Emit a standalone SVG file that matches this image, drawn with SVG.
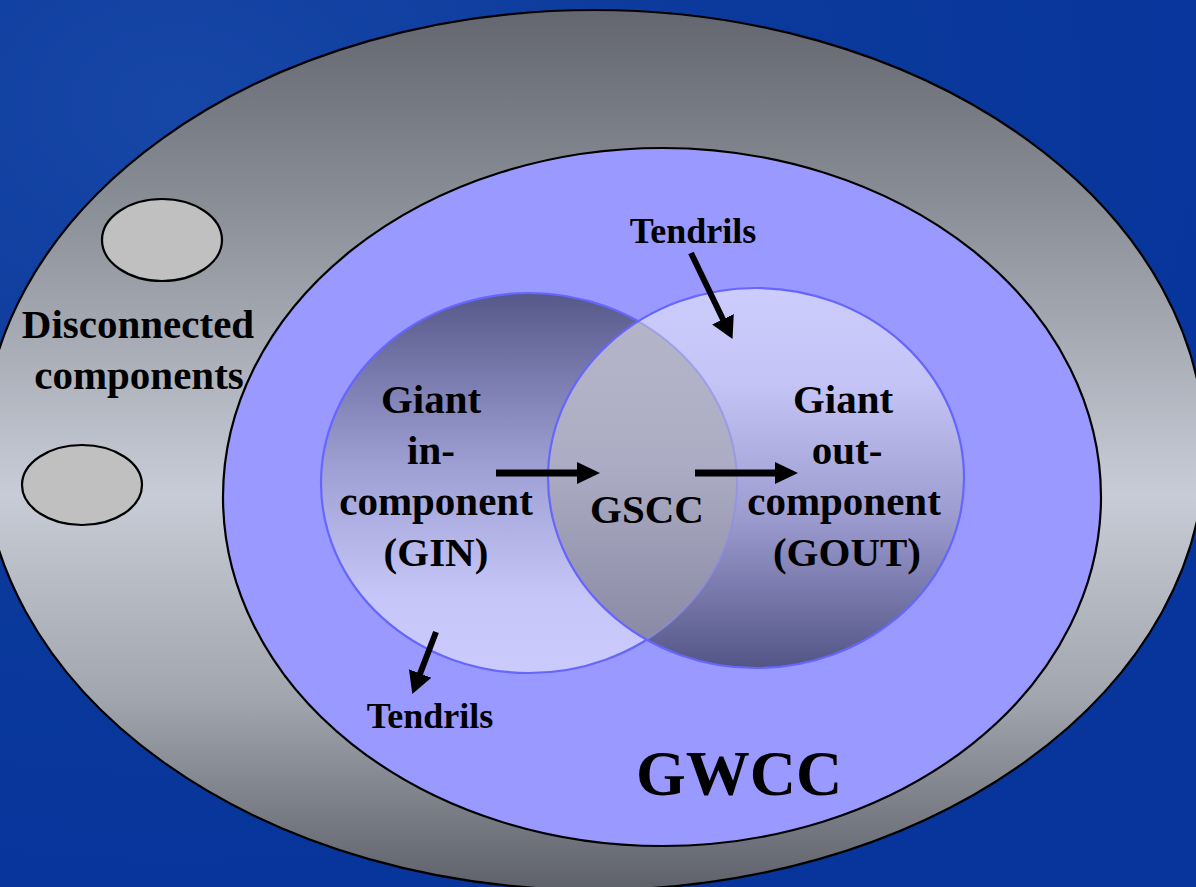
<svg xmlns="http://www.w3.org/2000/svg" width="1196" height="887" viewBox="0 0 1196 887">
  <defs>
    <style>
      .lbl { font-family: "Liberation Serif", "Times New Roman", serif; font-weight: bold; fill: #000; text-anchor: middle; }
      .main { font-size: 41px; }
      .tend { font-size: 36px; }
      .big { font-size: 64px; }
      .ring { stroke: #000; stroke-width: 2.2; }
      .venn { stroke: #6666ff; stroke-width: 2.2; }
      .shaft { stroke: #000; stroke-width: 7; fill: none; }
      .shaft-thin { stroke: #000; stroke-width: 6; fill: none; }
    </style>
    <radialGradient id="bgGrad" cx="0.15" cy="0.12" r="0.9">
      <stop offset="0" stop-color="#1646a6"/>
      <stop offset="0.5" stop-color="#0b3a9c"/>
      <stop offset="1" stop-color="#07359b"/>
    </radialGradient>
    <linearGradient id="outerGrad" gradientUnits="userSpaceOnUse" x1="0" y1="10" x2="0" y2="890">
      <stop offset="0" stop-color="#63666e"/>
      <stop offset="0.22" stop-color="#8a8e97"/>
      <stop offset="0.55" stop-color="#c8ccd6"/>
      <stop offset="0.78" stop-color="#a2a6ae"/>
      <stop offset="1" stop-color="#5e6169"/>
    </linearGradient>
    <linearGradient id="ginGrad" gradientUnits="userSpaceOnUse" x1="0" y1="293" x2="0" y2="673">
      <stop offset="0" stop-color="#57588a"/>
      <stop offset="0.45" stop-color="#9d9ed2"/>
      <stop offset="0.8" stop-color="#c6c6f8"/>
      <stop offset="1" stop-color="#cacafc"/>
    </linearGradient>
    <linearGradient id="goutGrad" gradientUnits="userSpaceOnUse" x1="0" y1="287" x2="0" y2="668">
      <stop offset="0" stop-color="#cccdfc"/>
      <stop offset="0.25" stop-color="#c4c4f6"/>
      <stop offset="0.6" stop-color="#9c9cd0"/>
      <stop offset="1" stop-color="#545587"/>
    </linearGradient>
    <linearGradient id="gsccGrad" gradientUnits="userSpaceOnUse" x1="0" y1="300" x2="0" y2="660">
      <stop offset="0" stop-color="#b6b6ca"/>
      <stop offset="0.45" stop-color="#acacc4"/>
      <stop offset="1" stop-color="#8686a2"/>
    </linearGradient>
    <clipPath id="ginClip">
      <ellipse cx="529" cy="483" rx="208" ry="190"/>
    </clipPath>
    <clipPath id="goutClip">
      <ellipse cx="756" cy="478" rx="208" ry="190"/>
    </clipPath>
    <marker id="head" viewBox="0 0 23 22" refX="1" refY="11" markerWidth="23" markerHeight="22" markerUnits="userSpaceOnUse" orient="auto">
      <path d="M0,0 L23,11 L0,22 z" fill="#000"/>
    </marker>
    <marker id="headT" viewBox="0 0 22 24" refX="1" refY="12" markerWidth="22" markerHeight="24" markerUnits="userSpaceOnUse" orient="auto">
      <path d="M0,0 L22,12 L0,24 z" fill="#000"/>
    </marker>
  </defs>

  <rect id="background" x="0" y="0" width="1196" height="887" fill="url(#bgGrad)"/>

  <g id="outer-region">
    <ellipse cx="594" cy="450" rx="611" ry="440" fill="url(#outerGrad)" class="ring"/>
  </g>

  <g id="disconnected-components">
    <ellipse cx="162" cy="240" rx="60" ry="41" fill="#c0c0c0" class="ring"/>
    <ellipse cx="82" cy="485" rx="60" ry="40" fill="#c0c0c0" class="ring"/>
  </g>

  <g id="gwcc">
    <ellipse cx="662" cy="497" rx="439" ry="349" fill="#9999ff" class="ring"/>
    <text class="lbl big" x="739" y="795">GWCC</text>
  </g>

  <g id="disconnected-label">
    <text class="lbl main" x="138" y="338">Disconnected</text>
    <text class="lbl main" x="139" y="389">components</text>
  </g>

  <g id="gin">
    <ellipse cx="529" cy="483" rx="208" ry="190" fill="url(#ginGrad)" class="venn"/>
  </g>

  <g id="gout">
    <ellipse cx="756" cy="478" rx="208" ry="190" fill="url(#goutGrad)"/>
  </g>

  <g id="gscc">
    <ellipse cx="756" cy="478" rx="208" ry="190" fill="url(#gsccGrad)" clip-path="url(#ginClip)"/>
    <ellipse cx="529" cy="483" rx="208" ry="190" fill="none" stroke="#8c8cf0" stroke-width="2" stroke-opacity="0.6" clip-path="url(#goutClip)"/>
    <ellipse cx="756" cy="478" rx="208" ry="190" fill="none" class="venn"/>
    <text class="lbl main" x="647" y="523">GSCC</text>
  </g>

  <g id="gin-label">
    <text class="lbl main" x="431" y="413">Giant</text>
    <text class="lbl main" x="431" y="464">in-</text>
    <text class="lbl main" x="436" y="515">component</text>
    <text class="lbl main" x="436" y="566">(GIN)</text>
  </g>

  <g id="gout-label">
    <text class="lbl main" x="843" y="413">Giant</text>
    <text class="lbl main" x="847" y="464">out-</text>
    <text class="lbl main" x="844" y="515">component</text>
    <text class="lbl main" x="847" y="566">(GOUT)</text>
  </g>

  <g id="tendrils-top">
    <text class="lbl tend" x="693" y="243">Tendrils</text>
  </g>

  <g id="tendrils-bottom">
    <text class="lbl tend" x="430" y="728">Tendrils</text>
  </g>

  <g id="connectors">
    <line class="shaft" x1="496" y1="473" x2="578" y2="473" marker-end="url(#head)"/>
    <line class="shaft" x1="695" y1="473" x2="776" y2="473" marker-end="url(#head)"/>
    <line class="shaft-thin" x1="691" y1="253" x2="723.4" y2="320.2" marker-end="url(#headT)"/>
    <line class="shaft-thin" x1="436" y1="632" x2="419.8" y2="674.4" marker-end="url(#headT)"/>
  </g>
</svg>
